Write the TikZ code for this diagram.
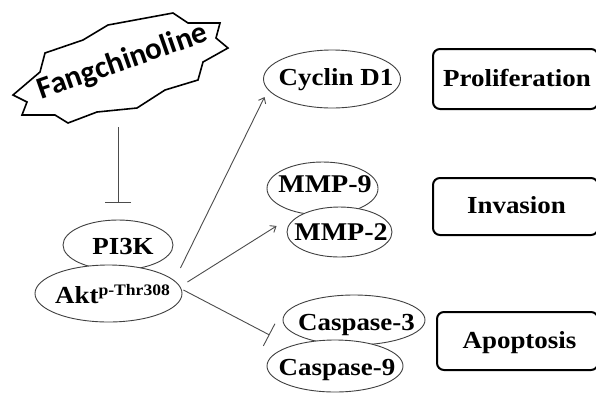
\documentclass[tikz,border=0pt]{standalone}
\usepackage{fontspec}
\setmainfont{Liberation Serif}
\newfontfamily\tnr[FakeStretch=1.1]{Liberation Serif}
\newfontfamily\fangfont{Carlito}
\usetikzlibrary{shapes.geometric,arrows.meta}
\begin{document}
\begin{tikzpicture}[x=1pt,y=-1pt,
  ell/.style={ellipse,draw=black!75,line width=0.9pt,fill=white,inner sep=0pt},
  lbl/.style={anchor=base,inner sep=0pt,font=\tnr\bfseries\fontsize{24.5}{24.5}\selectfont},
  boxx/.style={rectangle,draw=black,line width=2pt,rounded corners=7pt,inner sep=0pt},
  actarrow/.style={draw=black!70,line width=0.9pt,-{Straight Barb[length=5pt,width=8pt]}},
  inhib/.style={draw=black!70,line width=0.9pt,-{Bar[width=26pt]}}]
\useasboundingbox (0,0) rectangle (596,392);
\clip (0,0) rectangle (596,392);
\fill[white] (0,0) rectangle (596,392);
% Fangchinoline star
\draw[line width=1.6pt,line join=miter,fill=white]
  (13,95) -- (40,72) -- (45,53) -- (83,40) -- (108,25) -- (173,13) -- (188,23)
  -- (220,23) -- (216,38) -- (228,48) -- (203,62) -- (198,80) -- (165,90)
  -- (137,108) -- (97,112) -- (68,123) -- (55,115) -- (22,115) -- (27,102) -- cycle;
\node[anchor=base,inner sep=0pt,rotate=19.3,font=\fangfont\bfseries\fontsize{31}{31}\selectfont] (fang) at (125.5,70) {Fangchinoline};
\coordinate (fangtip) at (118,127);
% ellipses
\node[ell,minimum width=110pt,minimum height=50pt] (pi3k) at (118,245) {};
\node[ell,minimum width=147pt,minimum height=57pt] (akt) at (108.5,293.5) {};
\node[ell,minimum width=137pt,minimum height=58pt] (cyc) at (332,79) {};
\node[ell,minimum width=111pt,minimum height=53pt] (mmp9) at (322.5,188.5) {};
\node[ell,minimum width=105pt,minimum height=50pt] (mmp2) at (339.5,232) {};
\node[ell,minimum width=142pt,minimum height=50pt] (casp3) at (354,320) {};
\node[ell,minimum width=136pt,minimum height=52pt] (casp9) at (335,366) {};
% labels
\node[lbl] (pi3kt) at (123,254) {PI3K};
\node[lbl] (aktt) at (112.5,303) {Akt\raisebox{8pt}{\fontsize{16}{16}\selectfont p-Thr308}};
\node[lbl] (cyct) at (336,85) {Cyclin D1};
\node[lbl,font=\tnr\bfseries\fontsize{25.5}{25.5}\selectfont] (mmp9t) at (325,192) {MMP-9};
\node[lbl,font=\tnr\bfseries\fontsize{25.5}{25.5}\selectfont] (mmp2t) at (341,240) {MMP-2};
\node[lbl] (casp3t) at (356.5,330) {Caspase-3};
\node[lbl] (casp9t) at (337,375) {Caspase-9};
% boxes
\node[boxx,minimum width=165pt,minimum height=60pt] (prol) at (515.5,79) {};
\node[boxx,minimum width=165pt,minimum height=57pt] (inv) at (515.5,206.5) {};
\node[boxx,minimum width=161pt,minimum height=58pt] (apo) at (517.5,341) {};
\node[lbl] (prolt) at (517,86) {Proliferation};
\node[lbl] (invt) at (516.5,213) {Invasion};
\node[lbl] (apot) at (519.5,348) {Apoptosis};
% connectors
\draw[inhib] (fangtip) -- ([shift={(0,-17)}]pi3k.north);
\draw[actarrow] ([shift={(-2,-25.5)}]akt.east) -- ([shift={(1.5,18)}]cyc.west);
\draw[actarrow] ([shift={(5,-11.5)}]akt.east) -- ([shift={(-10,-6)}]mmp2.west);
\draw[inhib,-{Bar[width=25pt]}] ([shift={(1,-3.5)}]akt.east) -- ([shift={(-13,15)}]casp3.west);
\end{tikzpicture}
\end{document}
